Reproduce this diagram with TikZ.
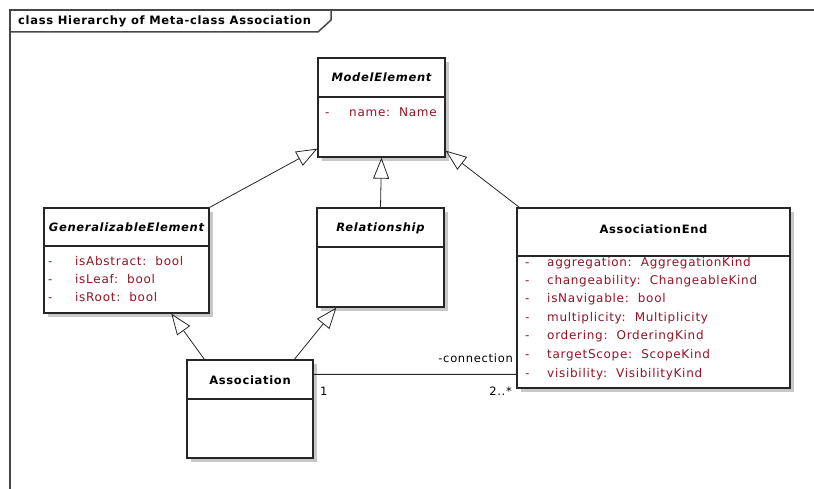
\documentclass[tikz,border=0pt]{standalone}
\usepackage{fontspec}
\setmainfont{DejaVu Sans}[LetterSpace=6]
\usetikzlibrary{arrows.meta,shadows,calc}
\definecolor{attr}{RGB}{140,22,40}
\definecolor{shade}{RGB}{200,200,200}
\definecolor{framec}{RGB}{70,70,70}

\begin{document}
\begin{tikzpicture}[x=1bp,y=-1bp,
  every node/.style={font=\fontsize{11.5bp}{13bp}\selectfont},
  cls/.style={draw=black!85, line width=1.3bp, fill=white, inner sep=0pt,
    drop shadow={shadow xshift=4bp, shadow yshift=-4bp, fill=shade, opacity=1}},
  ctitle/.style={font=\fontsize{11.5bp}{13bp}\selectfont\bfseries, inner sep=0pt},
  att/.style={text=attr, anchor=base west, inner sep=0pt,
    font=\fontsize{12bp}{14bp}\selectfont},
  sep/.style={draw=black!85, line width=1.3bp},
  gen/.style={draw=black!85, line width=0.8bp, -{Triangle[open,length=21bp,width=16bp]}},
  assocline/.style={draw=black!85, line width=0.8bp},
  lbl/.style={inner sep=0pt}]
\useasboundingbox (0,0) rectangle (814,489);

% diagram frame with its name tab
\draw[framec, line width=1.5bp] (814,10) -- (10,10) -- (10,489);
\draw[framec, line width=1.5bp] (10,32) -- (318,32) -- (331,20) -- (331,10);
\node[ctitle, anchor=west] (frametitle) at (18,21) {class Hierarchy of Meta-class Association};

% classes
\node[cls, minimum width=127bp, minimum height=99bp] (me) at (381.5,107.5) {};
\node[cls, minimum width=165bp, minimum height=105bp] (ge) at (126.5,260.5) {};
\node[cls, minimum width=127bp, minimum height=99bp] (rel) at (380.5,257.5) {};
\node[cls, minimum width=273bp, minimum height=180bp] (ae) at (653.5,298) {};
\node[cls, minimum width=126bp, minimum height=98bp] (as) at (250,409) {};

% compartment separators
\draw[sep] (me.west |- 0,97) -- (me.east |- 0,97);
\draw[sep] (ge.west |- 0,246) -- (ge.east |- 0,246);
\draw[sep] (rel.west |- 0,247) -- (rel.east |- 0,247);
\draw[sep] (ae.west |- 0,256) -- (ae.east |- 0,256);
\draw[sep] (as.west |- 0,399) -- (as.east |- 0,399);

% class names
\node[ctitle] (metitle) at (me.center |- 0,77) {\itshape ModelElement};
\node[ctitle] (getitle) at (ge.center |- 0,227) {\itshape GeneralizableElement};
\node[ctitle] (reltitle) at (rel.center |- 0,228) {\itshape Relationship};
\node[ctitle] (aetitle) at (ae.center |- 0,229) {AssociationEnd};
\node[ctitle] (astitle) at (as.center |- 0,380) {Association};

% attributes (positions are baselines)
\node[att] (med1) at (325,116.5) {-};
\node[att] (mea1) at (349,116.5) {name:~~Name};

\node[att] (ged1) at (48,265.5) {-};
\node[att] (gea1) at (75,265.5) {isAbstract:~~bool};
\node[att] (ged2) at (48,283.5) {-};
\node[att] (gea2) at (75,283.5) {isLeaf:~~bool};
\node[att] (ged3) at (48,301.5) {-};
\node[att] (gea3) at (75,301.5) {isRoot:~~bool};

\node[att] (aed1) at (525,266.5) {-};
\node[att] (aea1) at (547,266.5) {aggregation:~~AggregationKind};
\node[att] (aed2) at (525,284.5) {-};
\node[att] (aea2) at (547,284.5) {changeability:~~ChangeableKind};
\node[att] (aed3) at (525,302.5) {-};
\node[att] (aea3) at (547,302.5) {isNavigable:~~bool};
\node[att] (aed4) at (525,321.5) {-};
\node[att] (aea4) at (547,321.5) {multiplicity:~~Multiplicity};
\node[att] (aed5) at (525,339.5) {-};
\node[att] (aea5) at (547,339.5) {ordering:~~OrderingKind};
\node[att] (aed6) at (525,358.5) {-};
\node[att] (aea6) at (547,358.5) {targetScope:~~ScopeKind};
\node[att] (aed7) at (525,377.5) {-};
\node[att] (aea7) at (547,377.5) {visibility:~~VisibilityKind};

% generalizations
\draw[gen] (ge.north east) -- ($(me.south west)+(0,-9)$);
\draw[gen] (rel.north) -- (me.south);
\draw[gen] ($(ae.north west)+(3,0)$) -- ($(me.south east)+(0,-7)$);
\draw[gen] ($(as.north west)+(18,0)$) -- ($(ge.south west)+(128,0)$);
\draw[gen] ($(as.north west)+(108,0)$) -- ($(rel.south west)+(20,0)$);

% association Association -- AssociationEnd
\draw[assocline] ($(as.north east)+(0,15)$) -- ($(ae.north west)+(0,167)$);
\node[lbl, anchor=west] (mult1) at (320,391) {1};
\node[lbl, anchor=east] (mult2) at (512,391) {2..*};
\node[lbl, anchor=east] (role) at (513,358) {-connection};
\end{tikzpicture}
\end{document}
